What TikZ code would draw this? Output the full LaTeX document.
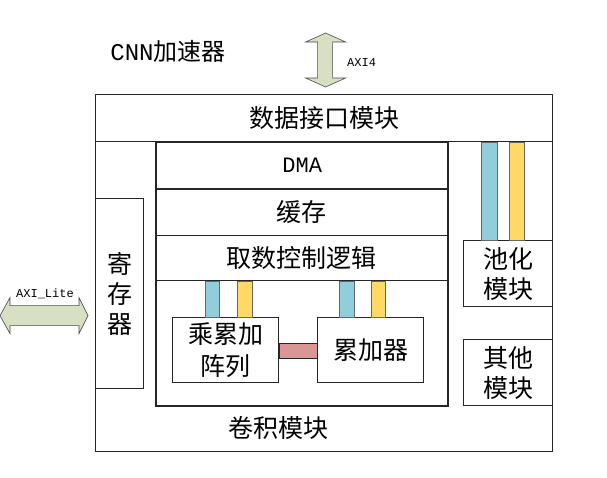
\documentclass[tikz,border=0pt]{standalone}
\usepackage{fontspec}
\setmainfont{Noto Sans CJK SC}
\newfontfamily\latinfont{Liberation Mono}
\usetikzlibrary{positioning, calc}
\definecolor{barblue}{RGB}{146,205,220}
\definecolor{baryellow}{RGB}{255,217,102}
\definecolor{linkred}{RGB}{217,150,148}
\definecolor{busgreen}{RGB}{216,224,196}

\tikzset{
    blk/.style={draw=black!85, line width=1.2pt, anchor=north west, inner sep=0pt,
        align=center, font=\fontsize{25}{30}\selectfont},
    thickblk/.style={blk, line width=2.4pt},
    bluebar/.style={fill=barblue, draw=black!60, line width=0.5pt},
    yellowbar/.style={fill=baryellow, draw=black!60, line width=0.5pt},
    redlink/.style={fill=linkred, draw=black!85, line width=1pt},
    bus/.style={fill=busgreen, draw=black!70, line width=0.6pt},
    smalltxt/.style={font=\latinfont\fontsize{12}{14}\selectfont, inner sep=1pt}
}

\begin{document}
\begin{tikzpicture}[x=1pt, y=-1pt]
\useasboundingbox (0,0) rectangle (607,477);

% Accelerator frame
\node[blk, minimum width=457pt, minimum height=357pt] (frame) at (95,94) {};
\node[font=\fontsize{24}{28}\selectfont, inner sep=0pt] (title) at (168,51) {{\latinfont CNN}加速器};

% Data interface
\node[blk, minimum width=457pt, minimum height=47pt] (data) at (95,94) {数据接口模块};

% Register
\node[blk, minimum width=48pt, minimum height=190pt] (reg) at (95,198) {寄\\存\\器};

% Convolution module
\node[thickblk, minimum width=292pt, minimum height=264pt] (conv) at (155,141) {};
\node[thickblk, minimum width=292pt, minimum height=47pt] (dma) at (155,141) {{\latinfont\fontsize{22}{26}\selectfont DMA}};
\node[blk, minimum width=292pt, minimum height=47pt] (buffer) at (155,188) {缓存};
\node[blk, minimum width=292pt, minimum height=45pt] (fetch) at (155,235) {取数控制逻辑};
\node[blk, minimum width=106pt, minimum height=65pt, font=\fontsize{25}{32}\selectfont] (mac) at (172,317) {乘累加\\阵列};
\node[blk, minimum width=106pt, minimum height=65pt] (acc) at (317,317) {累加器};
\node[font=\fontsize{25}{30}\selectfont, inner sep=0pt] (convlabel) at (278,428) {卷积模块};

% Pooling and other modules
\node[blk, minimum width=89pt, minimum height=66pt] (pool) at (463,240) {池化\\模块};
\node[blk, minimum width=89pt, minimum height=66pt] (other) at (463,339) {其他\\模块};

% Data paths
\draw[bluebar] ($(mac.north west)+(33,0)$) rectangle ($(mac.north west |- fetch.south)+(47,0)$);
\draw[yellowbar] ($(mac.north west)+(65,0)$) rectangle ($(mac.north west |- fetch.south)+(80,0)$);
\draw[bluebar] ($(acc.north west)+(22,0)$) rectangle ($(acc.north west |- fetch.south)+(37,0)$);
\draw[yellowbar] ($(acc.north west)+(54,0)$) rectangle ($(acc.north west |- fetch.south)+(68,0)$);
\draw[bluebar] ($(pool.north west)+(18,0)$) rectangle ($(pool.north west |- data.south)+(34,0)$);
\draw[yellowbar] ($(pool.north west)+(46,0)$) rectangle ($(pool.north west |- data.south)+(61,0)$);
\draw[redlink] ($(mac.east)+(0,-7)$) rectangle ($(acc.west)+(0,8)$);

% Bus arrows
\coordinate (axi4end) at ($(data.north)+(1.5,-7)$);
\draw[bus] (axi4end) -- ++(20,-9) -- ++(-13,0) -- ++(0,-36) -- ++(13,0) -- ++(-20,-9)
    -- ++(-20,9) -- ++(12,0) -- ++(0,36) -- ++(-12,0) -- cycle;
\node[smalltxt, anchor=west] (axi4) at (346,63) {AXI4};

\coordinate (liteend) at ($(reg.west)+(-7,22)$);
\draw[bus] (liteend) -- ++(-9,-18) -- ++(0,8) -- ++(-69,0) -- ++(0,-8) -- ++(-10,18)
    -- ++(10,18) -- ++(0,-8) -- ++(69,0) -- ++(0,8) -- cycle;
\node[smalltxt] (axilite) at (45,294) {AXI\_Lite};

\end{tikzpicture}
\end{document}
